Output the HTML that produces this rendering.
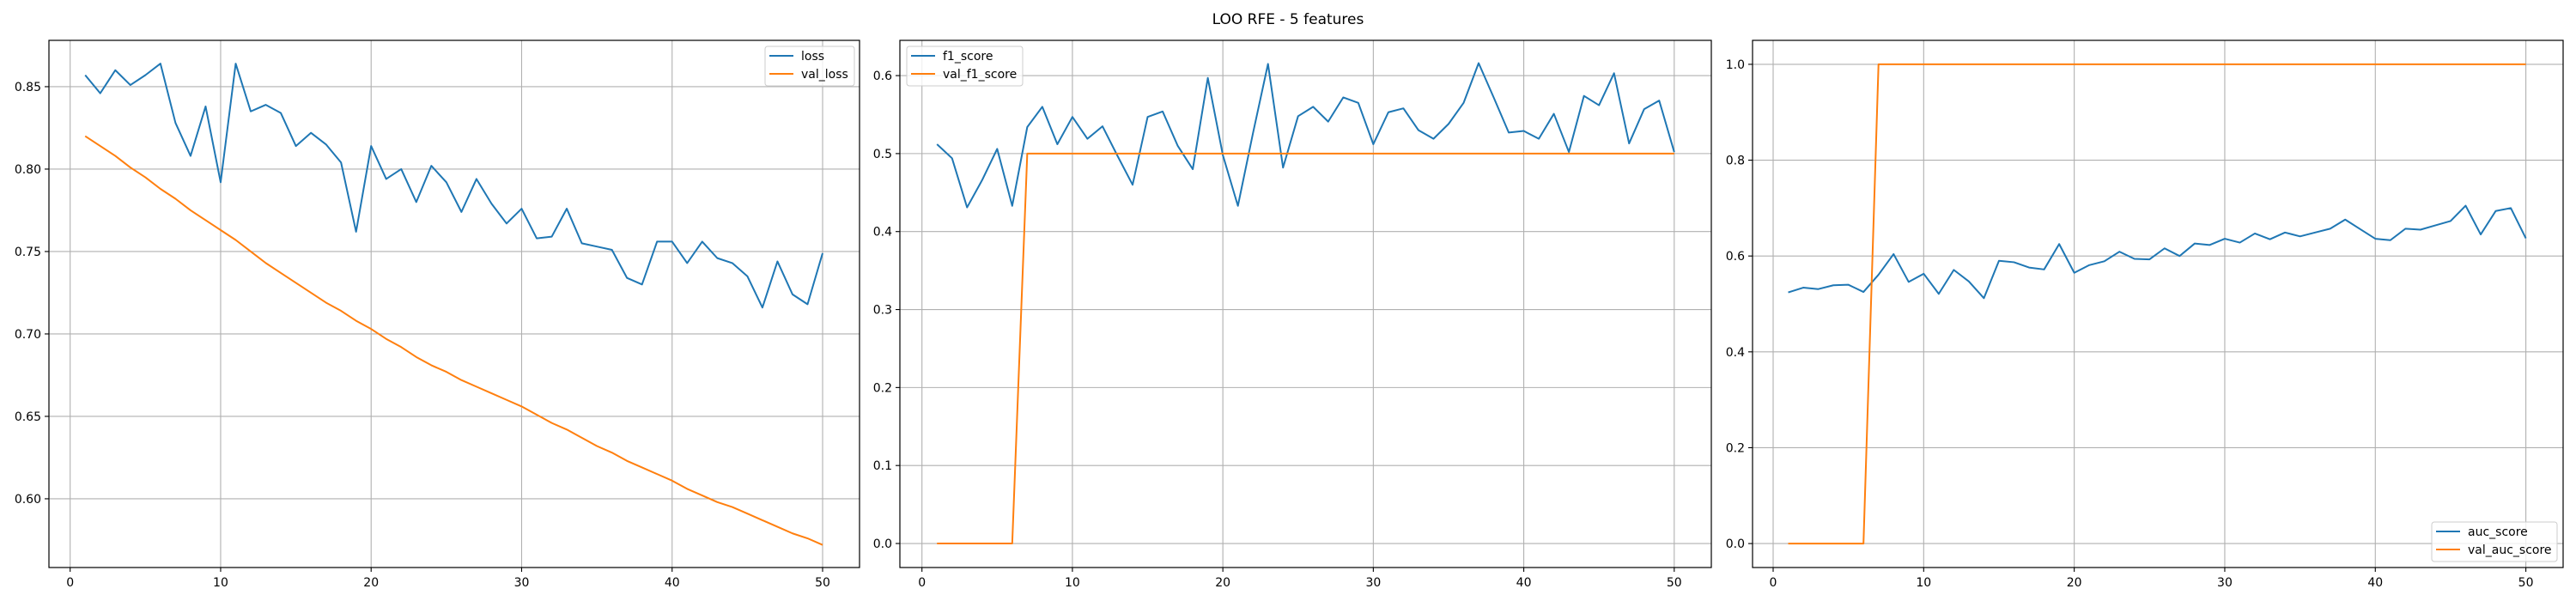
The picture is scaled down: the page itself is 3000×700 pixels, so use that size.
<!DOCTYPE html>
<html><head><meta charset="utf-8"><style>
html,body{margin:0;padding:0;background:#fff;}
svg{display:block;font-family:"DejaVu Sans","Liberation Sans",sans-serif;}
</style></head><body>
<svg id="fig" width="3000" height="700" viewBox="0 0 3000 700" xmlns="http://www.w3.org/2000/svg">
<rect width="3000" height="700" fill="#fff"/>
<text x="1500" y="28" font-size="17" text-anchor="middle">LOO RFE - 5 features</text>
</svg>
<script>
const epochs = [];
for (let i = 1; i <= 50; i++) epochs.push(i);
const lossValues = [0.857,0.846,0.860,0.851,0.857,0.864,0.828,0.808,0.838,0.792,0.864,0.835,0.839,0.834,0.814,0.822,0.815,0.804,0.762,0.814,0.794,0.800,0.780,0.802,0.792,0.774,0.794,0.779,0.767,0.776,0.758,0.759,0.776,0.755,0.753,0.751,0.734,0.730,0.756,0.756,0.743,0.756,0.746,0.743,0.735,0.716,0.744,0.724,0.718,0.749];
const valLossValues = [0.820,0.814,0.808,0.801,0.795,0.788,0.782,0.775,0.769,0.763,0.757,0.750,0.743,0.737,0.731,0.725,0.719,0.714,0.708,0.703,0.697,0.692,0.686,0.681,0.677,0.672,0.668,0.664,0.660,0.656,0.651,0.646,0.642,0.637,0.632,0.628,0.623,0.619,0.615,0.611,0.606,0.602,0.598,0.595,0.591,0.587,0.583,0.579,0.576,0.572];
const f1Values = [0.512,0.494,0.431,0.466,0.506,0.433,0.534,0.560,0.512,0.547,0.519,0.535,0.497,0.460,0.547,0.554,0.510,0.480,0.597,0.498,0.433,0.526,0.615,0.482,0.548,0.560,0.541,0.572,0.565,0.512,0.553,0.558,0.530,0.519,0.538,0.565,0.616,0.572,0.527,0.529,0.519,0.551,0.502,0.574,0.562,0.603,0.513,0.557,0.568,0.502];
const valF1Values = [0,0,0,0,0,0,0.5,0.5,0.5,0.5,0.5,0.5,0.5,0.5,0.5,0.5,0.5,0.5,0.5,0.5,0.5,0.5,0.5,0.5,0.5,0.5,0.5,0.5,0.5,0.5,0.5,0.5,0.5,0.5,0.5,0.5,0.5,0.5,0.5,0.5,0.5,0.5,0.5,0.5,0.5,0.5,0.5,0.5,0.5,0.5];
const aucValues = [0.524,0.534,0.531,0.539,0.540,0.525,0.561,0.604,0.546,0.563,0.521,0.571,0.547,0.512,0.590,0.587,0.576,0.572,0.625,0.565,0.581,0.589,0.609,0.594,0.593,0.616,0.600,0.626,0.623,0.636,0.628,0.647,0.635,0.649,0.641,0.649,0.657,0.676,0.656,0.636,0.633,0.657,0.655,0.664,0.673,0.705,0.645,0.694,0.700,0.637];
const valAucValues = [0,0,0,0,0,0,1,1,1,1,1,1,1,1,1,1,1,1,1,1,1,1,1,1,1,1,1,1,1,1,1,1,1,1,1,1,1,1,1,1,1,1,1,1,1,1,1,1,1,1];
const xTicks = [0,10,20,30,40,50];
const lossTicks = [0.60,0.65,0.70,0.75,0.80,0.85];
const f1Ticks = [0.0,0.1,0.2,0.3,0.4,0.5,0.6];
const aucTicks = [0.0,0.2,0.4,0.6,0.8,1.0];

const NS = "http://www.w3.org/2000/svg";
const svg = document.getElementById('fig');
function mk(tag, attrs, parent){const e=document.createElementNS(NS,tag);for(const k in attrs)e.setAttribute(k,attrs[k]);(parent||svg).appendChild(e);return e;}

function panel(cfg){
  const g = mk('g',{});
  
  
  const L=cfg.left,R=cfg.right,T=47,B=661;
  const xs = v => cfg.x0 + (v-0)*(cfg.x50-cfg.x0)/50;
  const ys = v => B - (v-cfg.ymin)*(B-T)/(cfg.ymax-cfg.ymin);
  xTicks.forEach(t=>{
    const x=xs(t);
    const gl=mk('line',{x1:x,x2:x,y1:T,y2:B,stroke:'#b0b0b0','stroke-width':1.1},g);
    
    
    mk('line',{x1:x,x2:x,y1:B,y2:B+5,stroke:'#000','stroke-width':1.1},g);
    const tx=mk('text',{x:x,y:B+22,'font-size':14,'text-anchor':'middle'},g);
    tx.textContent=String(t);
    
    
  });
  cfg.yTicks.forEach(t=>{
    const y=ys(t);
    const gl=mk('line',{x1:L,x2:R,y1:y,y2:y,stroke:'#b0b0b0','stroke-width':1.1},g);
    
    
    mk('line',{x1:L-5,x2:L,y1:y,y2:y,stroke:'#000','stroke-width':1.1},g);
    const tx=mk('text',{x:L-9,y:y+5,'font-size':14,'text-anchor':'end'},g);
    tx.textContent=t.toFixed(cfg.dec);
    
    
  });
  cfg.series.forEach(s=>{
    const pts=epochs.map((e,i)=>xs(e).toFixed(2)+','+ys(s.vals[i]).toFixed(2)).join(' ');
    const pl=mk('polyline',{points:pts,fill:'none',stroke:s.color,'stroke-width':2,'stroke-linejoin':'round'},g);
    
    
  });
  const fr=mk('rect',{x:L,y:T,width:R-L,height:B-T,fill:'none',stroke:'#000','stroke-width':1.2},g);
  
  
  const lg=mk('g',{},g);
  
  
  const [lx,ly,lw,lh]=cfg.legend;
  mk('rect',{x:lx,y:ly,width:lw,height:lh,fill:'#fff','fill-opacity':0.8,stroke:'#cccccc','stroke-width':1,rx:3},lg);
  cfg.series.forEach((s,i)=>{
    const yy=ly+11+i*21;
    mk('line',{x1:lx+5,x2:lx+33,y1:yy,y2:yy,stroke:s.color,'stroke-width':2},lg);
    const tx=mk('text',{x:lx+42,y:yy+5,'font-size':14},lg);
    tx.textContent=s.label;
    
    
  });
}
const BLUE='#1f77b4',ORANGE='#ff7f0e';
panel({name:'loss-panel',left:57,right:1001,x0:81.7,x50:958,ymin:0.5583,ymax:0.8781,yTicks:lossTicks,dec:2,
  series:[{label:'loss',vals:lossValues,color:BLUE},{label:'val_loss',vals:valLossValues,color:ORANGE}],
  legend:[891,54,104,46]});
panel({name:'f1-panel',left:1048,right:1993,x0:1073.7,x50:1949.8,ymin:-0.0308,ymax:0.6452,yTicks:f1Ticks,dec:1,
  series:[{label:'f1_score',vals:f1Values,color:BLUE},{label:'val_f1_score',vals:valF1Values,color:ORANGE}],
  legend:[1056,54,135,46]});
panel({name:'auc-panel',left:2041,right:2985,x0:2065,x50:2941.6,ymin:-0.05,ymax:1.05,yTicks:aucTicks,dec:1,
  series:[{label:'auc_score',vals:aucValues,color:BLUE},{label:'val_auc_score',vals:valAucValues,color:ORANGE}],
  legend:[2832,608,146,46]});
</script>
</body></html>
